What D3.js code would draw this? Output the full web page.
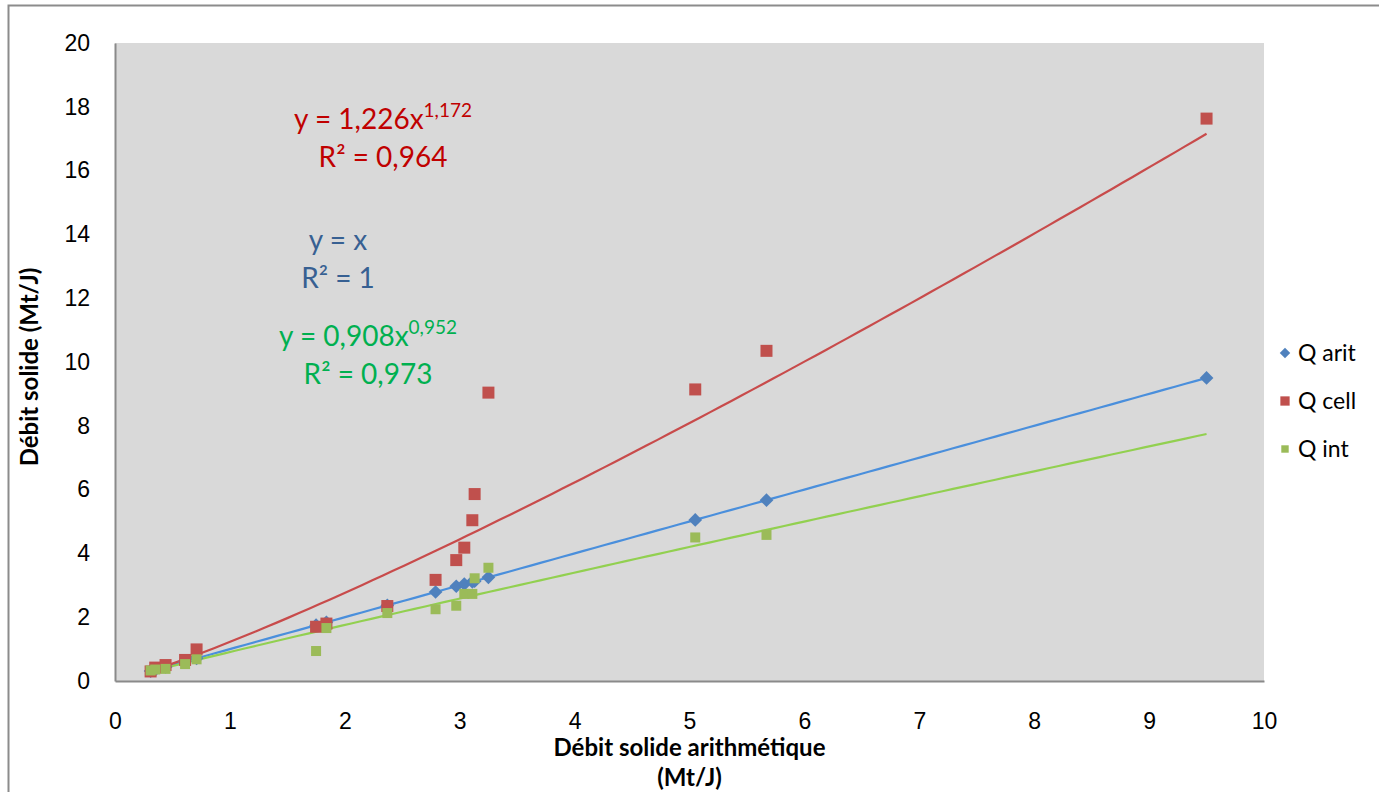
<!DOCTYPE html>
<html>
<head>
<meta charset="utf-8">
<script src="https://cdn.jsdelivr.net/npm/d3@7"></script>
<style>
  body { margin: 0; background: #fff; }
  svg { display: block; font-family: Lato, Calibri, 'Liberation Sans', sans-serif; }
</style>
</head>
<body>
<div id="root"></div>
<script>
// Débit solide arithmétique (Mt/J)
const qArit = [0.31, 0.35, 0.44, 0.61, 0.71, 1.75, 1.84, 2.37, 2.79, 2.97, 3.04, 3.11, 3.13, 3.25, 5.05, 5.67, 9.50];
const qCell = [0.30, 0.42, 0.50, 0.66, 0.99, 1.70, 1.80, 2.35, 3.17, 3.79, 4.18, 5.04, 5.86, 9.04, 9.14, 10.35, 17.63];
const qInt = [0.33, 0.36, 0.38, 0.53, 0.68, 0.94, 1.66, 2.13, 2.25, 2.36, 2.73, 2.73, 3.22, 3.55, 4.50, 4.58, null];

const xTicks = d3.range(0, 11, 1);
const yTicks = d3.range(0, 21, 2);

const seriesNames = ['Q arit', 'Q cell', 'Q int'];

// trend fits y = a * x^b as printed on the chart
const fits = [
  { name: 'Q arit', a: 1, b: 1, eq: ['y = x', ''], r2: 'R² = 1' },
  { name: 'Q cell', a: 1.226, b: 1.172, eq: ['y = 1,226x', '1,172'], r2: 'R² = 0,964' },
  { name: 'Q int', a: 0.908, b: 0.952, eq: ['y = 0,908x', '0,952'], r2: 'R² = 0,973' },
];

const svgWidth = 1379;
const svgHeight = 792;
const margin = { top: 43, right: 115, bottom: 111, left: 115 };
const chartWidth = svgWidth - margin.left - margin.right;
const chartHeight = svgHeight - margin.top - margin.bottom;

const markerColor = { 'Q arit': '#4f81bd', 'Q cell': '#c0504d', 'Q int': '#9bbb59' };
const lineColor = { 'Q arit': '#4a8fdc', 'Q cell': '#c84b4b', 'Q int': '#92d050' };
const textColor = { 'Q arit': '#376092', 'Q cell': '#c00000', 'Q int': '#00b050' };

const svg = d3.select('#root').append('svg')
  .attr('width', svgWidth)
  .attr('height', svgHeight);

// outer chart border
svg.append('rect')
  .attr('x', 8.5)
  .attr('y', 5.5)
  .attr('width', svgWidth + 20)
  .attr('height', svgHeight + 20)
  .attr('fill', 'none')
  .attr('stroke', '#8c8c8c')
  .attr('stroke-width', 2);

const chart = svg.append('g')
  .attr('transform', `translate(${margin.left}, ${margin.top})`);

chart.append('rect')
  .attr('width', chartWidth)
  .attr('height', chartHeight)
  .attr('fill', '#d9d9d9');

const xScale = d3.scaleLinear().domain([0, 10]).range([0, chartWidth]);
const yScale = d3.scaleLinear().domain([0, 20]).range([chartHeight, 0]);

const xAxis = d3.axisBottom(xScale)
  .tickValues(xTicks)
  .tickSize(0)
  .tickPadding(32)
  .tickSizeOuter(0);

chart.append('g')
  .attr('transform', `translate(0, ${chartHeight})`)
  .call(xAxis)
  .call(g => g.select('.domain').attr('stroke', '#8a8a8a').attr('stroke-width', 2))
  .call(g => g.selectAll('text').attr('font-size', 23).attr('fill', '#000').attr('font-family', null));

const yAxis = d3.axisLeft(yScale)
  .tickValues(yTicks)
  .tickSize(0)
  .tickPadding(25)
  .tickSizeOuter(0);

chart.append('g')
  .call(yAxis)
  .call(g => g.select('.domain').attr('stroke', '#8a8a8a').attr('stroke-width', 2))
  .call(g => g.selectAll('text').attr('font-size', 23).attr('fill', '#000').attr('font-family', null));

// trend lines over the x range of the data
const [xMin, xMax] = d3.extent(qArit);
const line = d3.line()
  .x(d => xScale(d[0]))
  .y(d => yScale(d[1]));

fits.forEach(f => {
  const pts = d3.range(0, 101).map(i => {
    const x = xMin + (xMax - xMin) * i / 100;
    return [x, f.a * Math.pow(x, f.b)];
  });
  chart.append('path')
    .datum(pts)
    .attr('fill', 'none')
    .attr('stroke', lineColor[f.name])
    .attr('stroke-width', 2.2)
    .attr('d', line);
});

// markers: Q arit first, then Q cell, then Q int on top
chart.append('g')
  .selectAll('path')
  .data(qArit)
  .enter()
  .append('path')
  .attr('transform', d => `translate(${xScale(d)}, ${yScale(d)})`)
  .attr('d', d3.symbol(d3.symbolDiamond2, 120))
  .attr('fill', markerColor['Q arit']);

chart.append('g')
  .selectAll('rect')
  .data(qArit.map((x, i) => [x, qCell[i]]))
  .enter()
  .append('rect')
  .attr('x', d => xScale(d[0]) - 6)
  .attr('y', d => yScale(d[1]) - 6)
  .attr('width', 12)
  .attr('height', 12)
  .attr('fill', markerColor['Q cell']);

chart.append('g')
  .selectAll('rect')
  .data(qArit.map((x, i) => [x, qInt[i]]).filter(d => d[1] !== null))
  .enter()
  .append('rect')
  .attr('x', d => xScale(d[0]) - 5)
  .attr('y', d => yScale(d[1]) - 5)
  .attr('width', 10)
  .attr('height', 10)
  .attr('fill', markerColor['Q int']);

// equations
const eqPos = {
  'Q cell': { x: 383, y: 129 },
  'Q arit': { x: 338, y: 250 },
  'Q int': { x: 368, y: 346 },
};

fits.forEach(f => {
  const p = eqPos[f.name];
  const t = svg.append('text')
    .attr('x', p.x)
    .attr('y', p.y)
    .attr('text-anchor', 'middle')
    .attr('font-size', 28)
    .attr('fill', textColor[f.name]);
  t.append('tspan').text(f.eq[0]);
  if (f.eq[1]) {
    t.append('tspan')
      .attr('font-size', 19)
      .attr('dy', -12)
      .text(f.eq[1]);
  }
  svg.append('text')
    .attr('x', p.x)
    .attr('y', p.y + 38)
    .attr('text-anchor', 'middle')
    .attr('font-size', 28)
    .attr('fill', textColor[f.name])
    .text(f.r2);
});

// axis titles
svg.append('text')
  .attr('x', margin.left + chartWidth / 2)
  .attr('y', 756)
  .attr('text-anchor', 'middle')
  .attr('font-size', 24)
  .attr('font-weight', 'bold')
  .text('Débit solide arithmétique');

svg.append('text')
  .attr('x', margin.left + chartWidth / 2)
  .attr('y', 786)
  .attr('text-anchor', 'middle')
  .attr('font-size', 24)
  .attr('font-weight', 'bold')
  .text('(Mt/J)');

svg.append('text')
  .attr('transform', `translate(38, ${margin.top + chartHeight / 2 + 5}) rotate(-90)`)
  .attr('text-anchor', 'middle')
  .attr('font-size', 24)
  .attr('font-weight', 'bold')
  .text('Débit solide (Mt/J)');

// legend
const legend = svg.append('g')
  .attr('transform', 'translate(1285, 353)');

const legendItems = legend.selectAll('g')
  .data(seriesNames)
  .enter()
  .append('g')
  .attr('transform', (d, i) => `translate(0, ${i * 48})`);

legendItems.append('path')
  .attr('d', d => d === 'Q arit'
    ? d3.symbol(d3.symbolDiamond2, 70)()
    : d3.symbol(d3.symbolSquare2, d === 'Q cell' ? 110 : 70)())
  .attr('fill', d => markerColor[d]);

legendItems.append('text')
  .attr('x', 13)
  .attr('y', 8)
  .attr('font-size', 23)
  .text(d => d);
</script>
</body>
</html>
